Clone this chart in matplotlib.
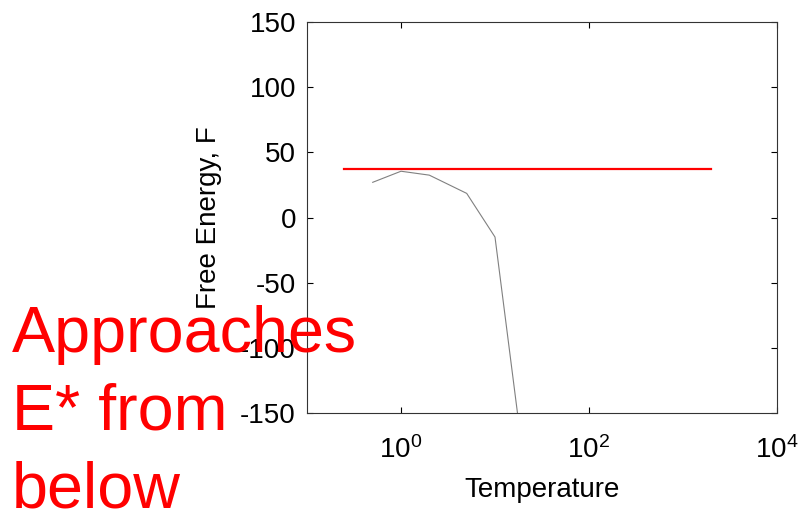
import matplotlib
matplotlib.use("Agg")
import matplotlib.pyplot as plt

plt.rcParams['font.family'] = ['Liberation Sans', 'DejaVu Sans']
plt.rcParams['axes.unicode_minus'] = False

temperature = [0.5, 1, 2, 5, 10, 20]
free_energy = [27, 35.5, 32.5, 18.5, -15, -185]
ref_temperature = [0.25, 2000]
ref_energy = [37.2, 37.2]

xticks = [1, 100, 10000]
xticklabels = ['$\\mathregular{10^0}$', '$\\mathregular{10^2}$', '$\\mathregular{10^4}$']
yticks = [-150, -100, -50, 0, 50, 100, 150]

fig = plt.figure(figsize=(8.01, 5.11), dpi=100)
ax = fig.add_axes([307/801, 1 - 413/511, 470/801, 391/511])

ax.plot(temperature, free_energy, color='#808080', lw=0.8)
ax.plot(ref_temperature, ref_energy, color='red', lw=1.6)

ax.set_xscale('log')
ax.set_xlim(0.1, 1e4)
ax.set_ylim(-150, 150)
ax.set_xticks(xticks)
ax.set_xticklabels(xticklabels)
ax.xaxis.set_minor_locator(matplotlib.ticker.NullLocator())
ax.set_yticks(yticks)
ax.tick_params(direction='in', length=4, width=0.8, labelsize=20, top=True, right=True, pad=8)
ax.tick_params(axis='x', pad=17)
for s in ax.spines.values():
    s.set_linewidth(0.8)
    s.set_color('#333333')

ax.set_xlabel('Temperature', fontsize=20, labelpad=9)
ax.set_ylabel('Free Energy, F', fontsize=20, labelpad=13)

fig.text(12/801, 1 - 507/511, 'Approaches\nE* from\nbelow', color='red', fontsize=46.5,
         ha='left', va='baseline', linespacing=1.37)

fig.savefig('out.png', dpi=100)
